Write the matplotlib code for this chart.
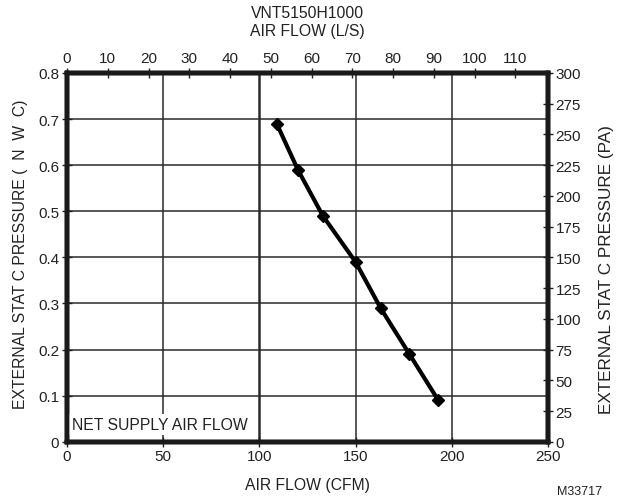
import matplotlib
matplotlib.use("Agg")
import matplotlib.pyplot as plt
import numpy as np

plt.rcParams['font.family'] = ['Liberation Sans', 'DejaVu Sans']

cfm = [109, 120, 133, 150, 163, 178, 193]
pressure_inwc = [0.69, 0.59, 0.49, 0.39, 0.29, 0.19, 0.09]

x_ticks = [0, 50, 100, 150, 200, 250]
y_ticks = [0, 0.1, 0.2, 0.3, 0.4, 0.5, 0.6, 0.7, 0.8]
y_tick_labels = ['0', '0.1', '0.2', '0.3', '0.4', '0.5', '0.6', '0.7', '0.8']
ls_ticks = [0, 10, 20, 30, 40, 50, 60, 70, 80, 90, 100, 110]
pa_ticks = [0, 25, 50, 75, 100, 125, 150, 175, 200, 225, 250, 275, 300]
CFM_PER_LS = 2.119

fs = 11.3
tfs = 11
fig = plt.figure(figsize=(6.18, 5.02), dpi=100)
ax = fig.add_axes([0.1084, 0.1179, 0.7783, 0.7349])
ax.set_xlim(0, 250)
ax.set_ylim(0, 0.8)
ax.set_xticks(x_ticks)
ax.set_yticks(y_ticks)
ax.set_yticklabels(y_tick_labels)
ax.grid(True, color='#2a2a2a', linewidth=1.1)
ax.get_xgridlines()[2].set_linewidth(1.8)
ax.set_axisbelow(True)
ax.plot(cfm, pressure_inwc, color='black', linewidth=3, marker='D', markersize=6.5, zorder=5)
ax.tick_params(direction='inout', length=7, width=1, labelsize=tfs, colors='#222222', pad=2)
for s in ax.spines.values():
    s.set_linewidth(3.2)
    s.set_color('#1a1a1a')
ax.set_xlabel('AIR FLOW (CFM)', fontsize=fs, labelpad=10, color='#222222')
ax.set_ylabel('EXTERNAL STAT C PRESSURE (  N  W  C)', fontsize=fs, color='#222222')
ax.yaxis.set_label_coords(-0.081, 0.51)

ax.text(2.5, 0.038, 'NET SUPPLY AIR FLOW', fontsize=fs, color='#222222', va='center', ha='left',
        bbox=dict(facecolor='white', edgecolor='none', pad=2), zorder=4)

axr = ax.twinx()
axr.set_ylim(0, 300)
axr.set_yticks(pa_ticks)
axr.tick_params(direction='inout', length=7, width=1, labelsize=tfs, colors='#222222', pad=2)
axr.set_ylabel('EXTERNAL STAT C PRESSURE (PA)', fontsize=12.3, color='#222222')
axr.yaxis.set_label_coords(1.106, 0.47)

axt = ax.twiny()
axt.set_xlim(0, 250 / CFM_PER_LS)
axt.set_xticks(ls_ticks)
axt.tick_params(direction='inout', length=7, width=1, labelsize=tfs, colors='#222222', pad=2)
axt.set_xlabel('VNT5150H1000\nAIR FLOW (L/S)', fontsize=fs, labelpad=12, color='#222222')
for a in (axr, axt):
    for s in a.spines.values():
        s.set_linewidth(3.2)
        s.set_color('#1a1a1a')

fig.text(0.938, 0.02, 'M33717', fontsize=9, ha='center', va='center', color='#222222')

fig.savefig('out.png', dpi=100)
